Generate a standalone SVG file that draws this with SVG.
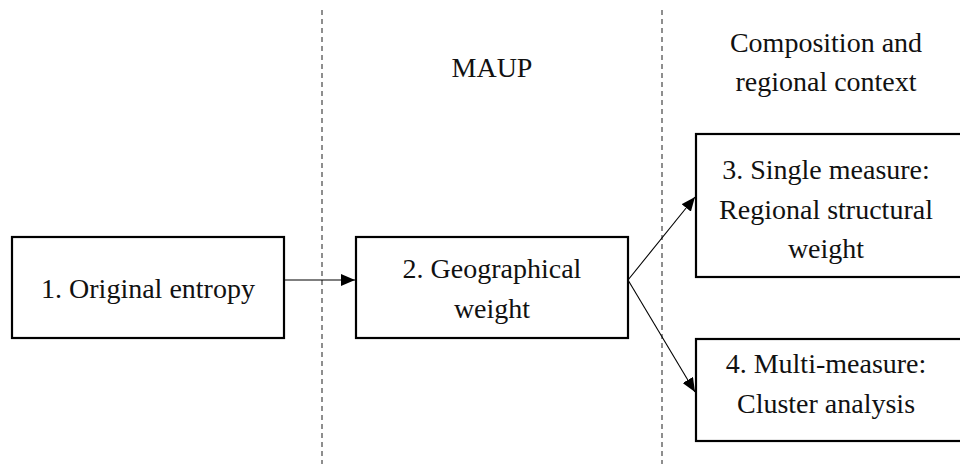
<svg xmlns="http://www.w3.org/2000/svg" width="960" height="464" viewBox="0 0 960 464">
<style>
text{font-family:'Liberation Serif','Times New Roman',serif;font-size:28px;fill:#111;text-anchor:middle}
.box{fill:#fff;stroke:#000;stroke-width:2.2}
.div{stroke:#444;stroke-width:1.2;stroke-dasharray:5,4;fill:none}
.con{stroke:#000;stroke-width:1.1;fill:none;marker-end:url(#ah)}
</style>
<defs>
<marker id="ah" viewBox="0 0 14 12" refX="14" refY="6" markerWidth="14" markerHeight="12" markerUnits="userSpaceOnUse" orient="auto">
<path d="M0,0 L14,6 L0,12 Z" fill="#000"/>
</marker>
</defs>
<rect width="960" height="464" fill="#fff"/>
<g id="dividers">
<line class="div" x1="322" y1="10" x2="322" y2="464"/>
<line class="div" x1="662" y1="10" x2="662" y2="464"/>
</g>
<g id="headers">
<text x="492" y="77">MAUP</text>
<text x="826" y="52">Composition and</text>
<text x="826" y="91">regional context</text>
</g>
<g id="connectors">
<line class="con" x1="284" y1="280" x2="355" y2="280"/>
<line class="con" x1="628" y1="280" x2="695" y2="197"/>
<line class="con" x1="628" y1="280" x2="695" y2="392"/>
</g>
<g id="node1">
<rect class="box" x="12" y="237" width="272" height="101"/>
<text x="148" y="298">1. Original entropy</text>
</g>
<g id="node2">
<rect class="box" x="356" y="237" width="272" height="101"/>
<text x="492" y="278">2. Geographical</text>
<text x="492" y="318">weight</text>
</g>
<g id="node3">
<rect class="box" x="696" y="134" width="272" height="143"/>
<text x="826" y="179">3. Single measure:</text>
<text x="826" y="219">Regional structural</text>
<text x="826" y="258">weight</text>
</g>
<g id="node4">
<rect class="box" x="696" y="339" width="272" height="102"/>
<text x="826" y="373">4. Multi-measure:</text>
<text x="826" y="413">Cluster analysis</text>
</g>
</svg>
